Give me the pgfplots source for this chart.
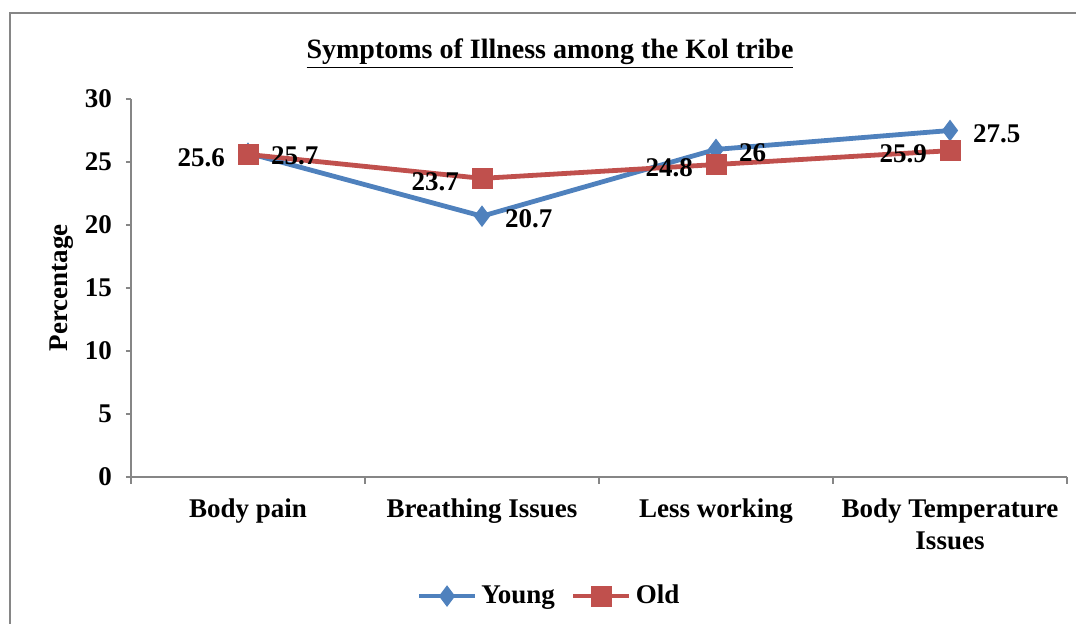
\documentclass[border=0pt]{standalone}
\usepackage{pgfplots}
\pgfplotsset{compat=1.18}
\usepackage{fontspec}
\setmainfont{Liberation Serif}
\definecolor{cblue}{HTML}{4F81BD}
\definecolor{cred}{HTML}{C0504D}
\definecolor{axgray}{HTML}{868686}
\newcommand{\cf}{\fontsize{13.5}{16}\selectfont\bfseries}
\begin{document}
\begin{tikzpicture}
\begin{axis}[
  at={(0,0)}, anchor=south west,
  scale only axis, width=468pt, height=189pt,
  xmin=-0.5, xmax=3.5, ymin=0, ymax=30,
  axis x line*=bottom, axis y line*=left,
  axis line style={axgray, line width=0.8pt, -},
  xtick={0,1,2,3},
  xticklabels={Body pain, Breathing Issues, Less working, {Body Temperature\\Issues}},
  minor xtick={-0.5,0.5,1.5,2.5,3.5},
  ytick={0,5,...,30},
  tick align=outside,
  major x tick style={draw=none},
  minor x tick style={axgray, line width=0.8pt},
  minor tick length=3.5pt,
  major y tick style={axgray, line width=0.8pt},
  major tick length=2.5pt,
  /pgf/number format/assume math mode=true,
  ticklabel style={font=\cf, text=black},
  yticklabel style={xshift=-3.5pt},
  xticklabel style={align=center, yshift=-5pt},
  legend columns=2,
  legend style={at={(0.4476,-0.315)}, anchor=center, draw=none, fill=none, font=\cf,
    /tikz/every even column/.append style={column sep=6pt}},
  legend image code/.code={\draw[mark repeat=2, mark phase=2] plot coordinates {(0pt,0pt) (14pt,0pt) (28pt,0pt)};},
  nodes near coords,
  every node near coord/.append style={font=\cf, text=black},
]
\addplot[cblue, line width=2.4pt, mark=diamond*, mark size=5pt,
  mark options={fill=cblue, draw=cblue, line width=0.5pt},
  every node near coord/.append style={anchor=west, xshift=8pt, yshift=-1.5pt}]
  coordinates {(0,25.7) (1,20.7) (2,26) (3,27.5)};
\addlegendentry{Young}
\addplot[cred, line width=2.4pt, mark=square*, mark size=5pt,
  mark options={fill=cred, draw=cred, line width=0.5pt},
  every node near coord/.append style={anchor=east, xshift=-8pt, yshift=-1.5pt}]
  coordinates {(0,25.6) (1,23.7) (2,24.8) (3,25.9)};
\addlegendentry{Old}
\end{axis}
\node[font=\fontsize{14}{16}\selectfont\bfseries] at (209.5pt,211.5pt) {\underline{Symptoms of Illness among the Kol tribe}};
\node[rotate=90, font=\cf] at (-34.5pt,94.5pt) {Percentage};
\draw[axgray, line width=0.8pt] (-60.5pt,-80pt) -- (-60.5pt,232pt) -- (480pt,232pt);
\pgfresetboundingbox
\path[use as bounding box] (-65.5pt,-73.5pt) rectangle (472.5pt,238.5pt);
\end{tikzpicture}
\end{document}
